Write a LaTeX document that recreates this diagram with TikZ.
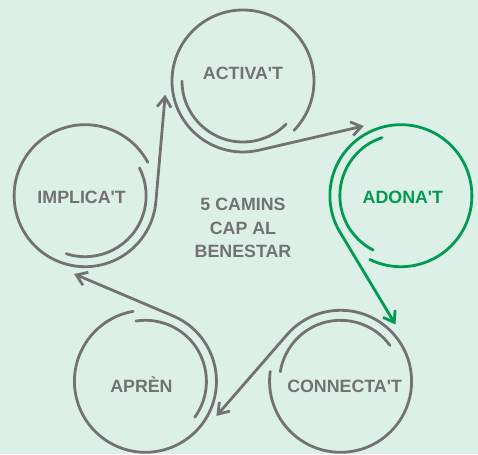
\documentclass[tikz,border=0pt]{standalone}
\usepackage{fontspec}
\setmainfont{Liberation Sans}
\usetikzlibrary{arrows.meta}
\definecolor{bgmint}{RGB}{221,240,232}
\definecolor{ringgray}{RGB}{114,114,114}
\definecolor{ringgreen}{RGB}{0,154,80}
\tikzset{
  ring/.style={circle, minimum size=142pt, inner sep=0pt, outer sep=0pt},
  lbl/.style={font=\bfseries\fontsize{17.8}{23.5}\selectfont, text=ringgray, inner sep=0pt},
  word/.style={lbl, text height=12.8pt, text depth=0pt},
  spiral/.style={draw=ringgray, line width=2.8pt, line cap=round},
  hop/.style={spiral, -{Straight Barb[length=10pt,width=14pt]}},
}

\begin{document}
\begin{tikzpicture}[x=1pt,y=1pt]
      \fill[bgmint] (0,0) rectangle (478,454);
      \useasboundingbox (0,0) rectangle (478,454);
      \path[shift={(243,207)}]
        (90:166) node[ring] (activa){}
        (18:166) node[ring] (adona){}
        (-54:166) node[ring] (connecta){}
        (-126:166) node[ring] (apren){}
        (162:166) node[ring] (implica){};
      \node[word] (activat) at ([yshift=7.5]activa) {ACTIVA\textquotesingle T};
      \node[word, text=ringgreen] (adonat) at ([shift={(2,-1)}]adona) {ADONA\textquotesingle T};
      \node[word] (connectat) at ([shift={(4,-5)}]connecta) {CONNECTA\textquotesingle T};
      \node[word] (aprenlbl) at ([shift={(-4,-5)}]apren) {APRÈN};
      \node[word] (implicat) at ([shift={(-3.5,-1)}]implica) {IMPLICA\textquotesingle T};
      \node[lbl, align=center] (camins) at (243,226) {5 CAMINS\\CAP AL\\BENESTAR};
      \begin{scope}[spiral]
        % inner turns
        \draw ([shift={(180:61)}]activa.center) arc[start angle=180, end angle=315, radius=61];
        \draw[ringgreen] ([shift={(108:61)}]adona.center) arc[start angle=108, end angle=243, radius=61];
        \draw ([shift={(36:61)}]connecta.center) arc[start angle=36, end angle=171, radius=61];
        \draw ([shift={(-36:61)}]apren.center) arc[start angle=-36, end angle=99, radius=61];
        \draw ([shift={(252:61)}]implica.center) arc[start angle=252, end angle=387, radius=61];
        % outer turns running on to the next circle
        \draw[hop] ([shift={(316:71)}]activa.center) arc[start angle=316, end angle=642, radius=71]
          -- ([shift={(118:79)}]adona.center);
        \draw[hop, ringgreen] ([shift={(244:71)}]adona.center) arc[start angle=244, end angle=570, radius=71]
          -- ([shift={(46:79)}]connecta.center);
        \draw[hop] ([shift={(172:71)}]connecta.center) arc[start angle=172, end angle=498, radius=71]
          -- ([shift={(-26:79)}]apren.center);
        \draw[hop] ([shift={(100:71)}]apren.center) arc[start angle=100, end angle=426, radius=71]
          -- ([shift={(262:79)}]implica.center);
        \draw[hop] ([shift={(28:71)}]implica.center) arc[start angle=28, end angle=354, radius=71]
          -- ([shift={(190:79)}]activa.center);
      \end{scope}
    \end{tikzpicture}
\end{document}
